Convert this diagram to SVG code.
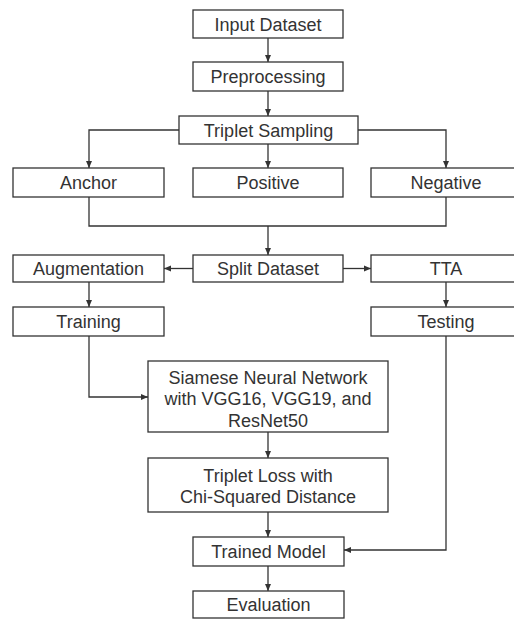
<svg xmlns="http://www.w3.org/2000/svg" width="514" height="619" viewBox="0 0 514 619">
<style>
.box rect{fill:#fff;stroke:#333;stroke-width:1.3}
.box text{font-family:"Liberation Sans",Arial,sans-serif;font-size:18px;fill:#333;text-anchor:middle}
.conn path{fill:none;stroke:#333;stroke-width:1.3}
</style>
<defs>
<marker id="ah" markerUnits="userSpaceOnUse" markerWidth="7" markerHeight="7" refX="7" refY="3.5" orient="auto">
<path d="M0,0.5 L7,3.5 L0,6.5 z" fill="#333"/>
</marker>
</defs>
<rect width="514" height="619" fill="#fff"/>
<g class="conn">
<path d="M268,38 V62" marker-end="url(#ah)"/>
<path d="M268,91 V116" marker-end="url(#ah)"/>
<path d="M179,130 H89 V168" marker-end="url(#ah)"/>
<path d="M358,130 H446 V168" marker-end="url(#ah)"/>
<path d="M268,144 V168" marker-end="url(#ah)"/>
<path d="M89,197 V226 H446 V197"/>
<path d="M268,226 V255" marker-end="url(#ah)"/>
<path d="M193,268.5 H164" marker-end="url(#ah)"/>
<path d="M343,268.5 H371" marker-end="url(#ah)"/>
<path d="M89,282 V307" marker-end="url(#ah)"/>
<path d="M446,282 V307" marker-end="url(#ah)"/>
<path d="M89,336 V397 H148" marker-end="url(#ah)"/>
<path d="M268,432 V458" marker-end="url(#ah)"/>
<path d="M446,336 V550 H344" marker-end="url(#ah)"/>
<path d="M268,512 V537" marker-end="url(#ah)"/>
<path d="M268,566 V591" marker-end="url(#ah)"/>
</g>
<g id="input" class="box"><rect x="193" y="10" width="150" height="28"/><text x="268" y="30.5">Input Dataset</text></g>
<g id="preprocessing" class="box"><rect x="193" y="62" width="150" height="29"/><text x="268" y="83">Preprocessing</text></g>
<g id="triplet-sampling" class="box"><rect x="179" y="116" width="179" height="28"/><text x="268.5" y="136.5">Triplet Sampling</text></g>
<g id="anchor" class="box"><rect x="13" y="168" width="151" height="29"/><text x="88.5" y="189">Anchor</text></g>
<g id="positive" class="box"><rect x="193" y="168" width="150" height="29"/><text x="268" y="189">Positive</text></g>
<g id="negative" class="box"><rect x="371" y="168" width="151" height="29"/><text x="446" y="189">Negative</text></g>
<g id="augmentation" class="box"><rect x="13" y="255" width="151" height="27"/><text x="88.5" y="275">Augmentation</text></g>
<g id="split" class="box"><rect x="193" y="255" width="150" height="27"/><text x="268" y="275">Split Dataset</text></g>
<g id="tta" class="box"><rect x="371" y="255" width="151" height="27"/><text x="446" y="275">TTA</text></g>
<g id="training" class="box"><rect x="13" y="307" width="151" height="29"/><text x="88.5" y="328">Training</text></g>
<g id="testing" class="box"><rect x="371" y="307" width="151" height="29"/><text x="446" y="328">Testing</text></g>
<g id="siamese" class="box"><rect x="148" y="361" width="240" height="71"/><text x="268" y="383.5">Siamese Neural Network</text><text x="268" y="405">with VGG16, VGG19, and</text><text x="268" y="426.5">ResNet50</text></g>
<g id="loss" class="box"><rect x="148" y="458" width="240" height="54"/><text x="268" y="481.5">Triplet Loss with</text><text x="268" y="503">Chi-Squared Distance</text></g>
<g id="trained" class="box"><rect x="193" y="537" width="151" height="29"/><text x="268.5" y="558">Trained Model</text></g>
<g id="evaluation" class="box"><rect x="193" y="591" width="151" height="27"/><text x="268.5" y="611">Evaluation</text></g>
</svg>
